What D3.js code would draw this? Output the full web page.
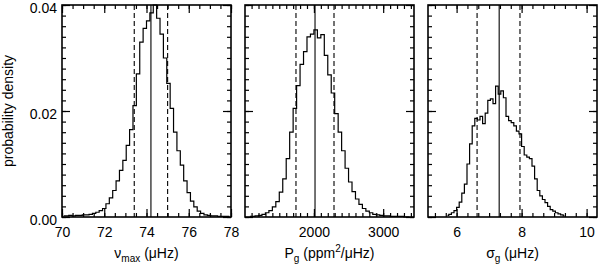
<!doctype html>
<html>
<head>
<meta charset="utf-8">
<title>posterior densities</title>
<script src="https://d3js.org/d3.v7.min.js"></script>
<style>
  body { margin:0; background:#fff; }
  text { font-family:"Liberation Sans", Arial, Helvetica, sans-serif; font-size:14px; fill:#000; }
</style>
</head>
<body>
<svg></svg>
<script>
// numax histogram (bin centres, density)
const numaxBins = [70.08, 70.24, 70.40, 70.56, 70.72, 70.88, 71.04, 71.20, 71.36, 71.52,
                   71.68, 71.84, 72.00, 72.16, 72.32, 72.48, 72.64, 72.80, 72.96, 73.12,
                   73.28, 73.44, 73.60, 73.76, 73.92, 74.08, 74.24, 74.40, 74.56, 74.72,
                   74.88, 75.04, 75.20, 75.36, 75.52, 75.68, 75.84, 76.00, 76.16, 76.32,
                   76.48, 76.64, 76.80, 76.96, 77.12, 77.28, 77.44, 77.60, 77.76, 77.92];
const numaxDens = [0.0002, 0.0002, 0.0003, 0.0002, 0.0003, 0.0003, 0.0004, 0.0004, 0.0005, 0.0007,
                   0.0009, 0.0012, 0.0016, 0.0025, 0.0036, 0.0050, 0.0068, 0.0088, 0.0107, 0.0135,
                   0.0165, 0.0210, 0.0270, 0.0330, 0.0356, 0.0370, 0.0385, 0.0400, 0.0375, 0.0345,
                   0.0300, 0.0252, 0.0205, 0.0160, 0.0125, 0.0098, 0.0068, 0.0046, 0.0030, 0.0019,
                   0.0011, 0.0007, 0.0004, 0.0003, 0.0002, 0.0002, 0.0001, 0.0001, 0.0001, 0.0001];
const numaxLines = [73.42, 74.21, 75.00];   // lower, median, upper

// Pg histogram
const pgBins = [1075, 1125, 1175, 1225, 1275, 1325, 1375, 1425, 1475, 1525,
                1575, 1625, 1675, 1725, 1775, 1825, 1875, 1925, 1975, 2025,
                2075, 2125, 2175, 2225, 2275, 2325, 2375, 2425, 2475, 2525,
                2575, 2625, 2675, 2725, 2775, 2825, 2875, 2925, 2975, 3025,
                3075, 3125, 3175, 3225, 3275, 3325, 3375];
const pgDens = [0.0001, 0.0001, 0.0002, 0.0003, 0.0005, 0.0008, 0.0012, 0.0019, 0.0029, 0.0047,
                0.0072, 0.0110, 0.0160, 0.0205, 0.0248, 0.0288, 0.0312, 0.0340, 0.0345, 0.0353,
                0.0338, 0.0344, 0.0305, 0.0268, 0.0234, 0.0195, 0.0160, 0.0125, 0.0092, 0.0066,
                0.0048, 0.0034, 0.0024, 0.0016, 0.0011, 0.0008, 0.0005, 0.0004, 0.0003, 0.0002,
                0.0002, 0.0001, 0.0001, 0.0001, 0.0001, 0.0000, 0.0000];
const pgLines = [1741, 2016, 2290];

// sigma_g histogram
const sigBins = [5.72, 5.80, 5.88, 5.96, 6.04, 6.12, 6.20, 6.28, 6.36, 6.44,
                 6.52, 6.60, 6.68, 6.76, 6.84, 6.92, 7.00, 7.08, 7.16, 7.24,
                 7.32, 7.40, 7.48, 7.56, 7.64, 7.72, 7.80, 7.88, 7.96, 8.04,
                 8.12, 8.20, 8.28, 8.36, 8.44, 8.52, 8.60, 8.68, 8.76, 8.84,
                 8.92, 9.00, 9.08, 9.16, 9.24, 9.32];
const sigDens = [0.0003, 0.0005, 0.0008, 0.0012, 0.0018, 0.0028, 0.0045, 0.0062, 0.0100, 0.0138,
                 0.0172, 0.0186, 0.0183, 0.0190, 0.0176, 0.0196, 0.0220, 0.0223, 0.0214, 0.0247,
                 0.0232, 0.0238, 0.0225, 0.0190, 0.0182, 0.0178, 0.0172, 0.0162, 0.0157, 0.0133,
                 0.0117, 0.0113, 0.0110, 0.0096, 0.0072, 0.0050, 0.0040, 0.0033, 0.0027, 0.0020,
                 0.0014, 0.0011, 0.0008, 0.0006, 0.0004, 0.0002];
const sigLines = [6.63, 7.31, 7.95];

// axes
const yTicks = [0.00, 0.02, 0.04];
const yLabels = ["0.00", "0.02", "0.04"];
const numaxTicks = [70, 72, 74, 76, 78];
const pgTicks = [2000, 3000];
const sigTicks = [6, 8, 10];

const W = 598, H = 267;
const panelW = 169, plotTop = 5, plotBottom = 217;

const svg = d3.select('svg').attr('width', W).attr('height', H);

const yScale = d3.scaleLinear().domain([0, 0.04]).range([plotBottom, plotTop]);
const yMinor = d3.range(0, 0.0401, 0.002);

const panels = [
  { x0: 62,  domain: [70, 78],     bins: numaxBins, dens: numaxDens, lines: numaxLines,
    ticks: numaxTicks, minorStep: 0.5, yLabels: true },
  { x0: 245, domain: [1005, 3445], bins: pgBins, dens: pgDens, lines: pgLines,
    ticks: pgTicks, minorStep: 100, yLabels: false },
  { x0: 428, domain: [5.12, 10.32], bins: sigBins, dens: sigDens, lines: sigLines,
    ticks: sigTicks, minorStep: 1 / 3, yLabels: false }
];

panels.forEach(function(p) {
  const x = d3.scaleLinear().domain(p.domain).range([p.x0, p.x0 + panelW]);
  const g = svg.append('g');

  // minor ticks, stepping out from the first major tick
  const base = p.ticks[0];
  const minor = d3.range(-60, 60).map(function(k) { return base + k * p.minorStep; })
                  .filter(function(v) { return v >= p.domain[0] - 1e-9 && v <= p.domain[1] + 1e-9; });

  function drawAxis(axis, tr) {
    const a = g.append('g').attr('transform', tr).call(axis);
    a.select('.domain').remove();
    a.selectAll('line').attr('stroke', '#000').attr('stroke-width', 1.2);
    return a;
  }

  // bottom / top
  drawAxis(d3.axisBottom(x).tickValues(minor).tickSize(-4).tickFormat(''), 'translate(0,' + plotBottom + ')');
  drawAxis(d3.axisTop(x).tickValues(minor).tickSize(-4).tickFormat(''), 'translate(0,' + plotTop + ')');
  const xb = drawAxis(d3.axisBottom(x).tickValues(p.ticks).tickSize(-8).tickPadding(10)
                        .tickFormat(d3.format('d')), 'translate(0,' + plotBottom + ')');
  xb.selectAll('text').attr('font-size', 14).attr('font-family', null);
  drawAxis(d3.axisTop(x).tickValues(p.ticks).tickSize(-8).tickFormat(''), 'translate(0,' + plotTop + ')');

  // left / right
  drawAxis(d3.axisLeft(yScale).tickValues(yMinor).tickSize(-4).tickFormat(''), 'translate(' + p.x0 + ',0)');
  drawAxis(d3.axisRight(yScale).tickValues(yMinor).tickSize(-4).tickFormat(''), 'translate(' + (p.x0 + panelW) + ',0)');
  const yl = drawAxis(d3.axisLeft(yScale).tickValues(yTicks).tickSize(-8).tickPadding(5)
                        .tickFormat(function(d, i) { return p.yLabels ? yLabels[i] : ''; }),
                      'translate(' + p.x0 + ',0)');
  yl.selectAll('text').attr('font-size', 14).attr('font-family', null).attr('dy', '0.52em');
  drawAxis(d3.axisRight(yScale).tickValues(yTicks).tickSize(-8).tickFormat(''), 'translate(' + (p.x0 + panelW) + ',0)');

  // frame
  g.append('rect')
   .attr('x', p.x0).attr('y', plotTop)
   .attr('width', panelW).attr('height', plotBottom - plotTop)
   .attr('fill', 'none').attr('stroke', '#000').attr('stroke-width', 1.6);

  // histogram
  const pts = p.bins.map(function(b, i) { return [b, p.dens[i]]; });
  const line = d3.line()
                 .x(function(d) { return x(d[0]); })
                 .y(function(d) { return yScale(d[1]); })
                 .curve(d3.curveStep);
  g.append('path')
   .datum(pts)
   .attr('d', line)
   .attr('fill', 'none')
   .attr('stroke', '#000')
   .attr('stroke-width', 1.2);

  // median and bounds
  g.selectAll('line.mark')
   .data(p.lines)
   .enter()
   .append('line')
   .attr('class', 'mark')
   .attr('x1', function(d) { return x(d); })
   .attr('x2', function(d) { return x(d); })
   .attr('y1', plotTop)
   .attr('y2', plotBottom)
   .attr('stroke', '#000')
   .attr('stroke-width', 1.1)
   .attr('stroke-dasharray', function(d, i) { return i === 1 ? null : '5,3'; });
});

// axis titles
function title(cx, parts) {
  const t = svg.append('text').attr('x', cx).attr('y', 258).attr('text-anchor', 'middle');
  parts.forEach(function(s) {
    const ts = t.append('tspan').text(s[0]);
    if (s[1] === 'sub') ts.attr('font-size', 10).attr('dy', 4);
    if (s[1] === 'sup') ts.attr('font-size', 10).attr('dy', -6);
    if (s[1] === 'back') ts.attr('dy', -4);
    if (s[1] === 'down') ts.attr('dy', 6);
  });
}
title(62 + panelW / 2, [['\u03bd'], ['max', 'sub'], [' (\u03bcHz)', 'back']]);
title(245 + panelW / 2, [['P'], ['g', 'sub'], [' (ppm', 'back'], ['2', 'sup'], ['/\u03bcHz)', 'down']]);
title(428 + panelW / 2, [['\u03c3'], ['g', 'sub'], [' (\u03bcHz)', 'back']]);

svg.append('text')
   .attr('transform', 'translate(13,' + ((plotTop + plotBottom) / 2) + ') rotate(-90)')
   .attr('text-anchor', 'middle')
   .text('probability density');
</script>
</body>
</html>
